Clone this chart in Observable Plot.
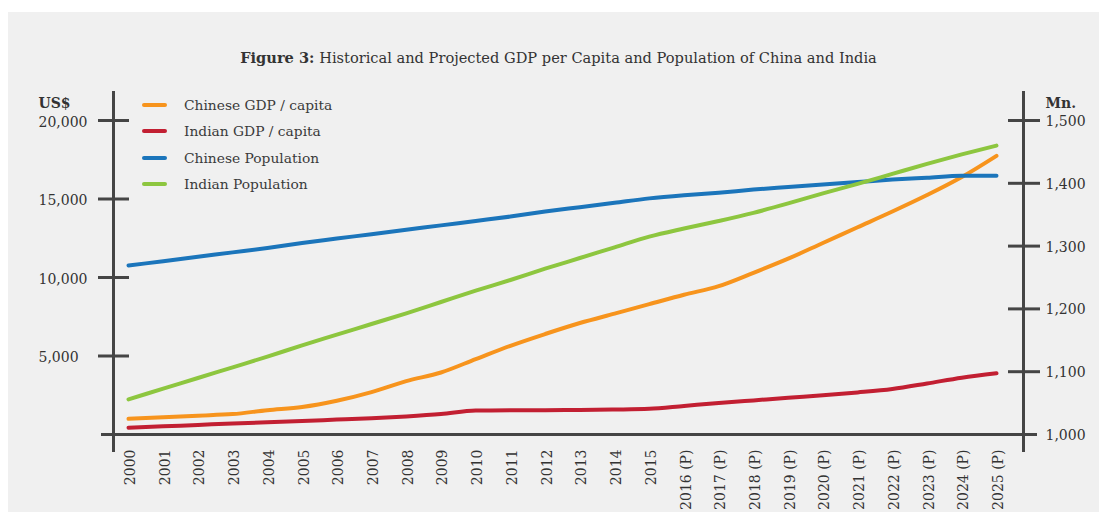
<!DOCTYPE html>
<html>
<head>
<meta charset="utf-8">
<script src="https://cdn.jsdelivr.net/npm/d3@7"></script>
<script src="https://cdn.jsdelivr.net/npm/@observablehq/plot@0.6"></script>
<style>
  html, body { margin: 0; padding: 0; background: #ffffff; }
  #panel { position: absolute; left: 8px; top: 12px; width: 1091px; height: 500px; background: #f0f0f0; overflow: hidden; }
  #title { position: absolute; left: -8px; top: 37px; width: 1117px; text-align: center; font-family: "DejaVu Serif", serif; font-size: 14.6px; color: #333; }
  #chart { position: absolute; left: -8px; top: 56px; }
  #legend { position: absolute; left: 134px; top: 80px; font-family: "DejaVu Serif", serif; font-size: 13.8px; color: #3a3a3a; }
  .row { height: 26.3px; display: flex; align-items: center; }
  .sw { width: 25px; height: 4px; border-radius: 2px; margin-right: 17px; }
</style>
</head>
<body>
<div id="panel">
  <div id="title"><b>Figure 3:</b> Historical and Projected GDP per Capita and Population of China and India</div>
  <div id="chart"></div>
  <div id="legend"></div>
</div>
<script>
const years = ["2000","2001","2002","2003","2004","2005","2006","2007","2008","2009","2010","2011","2012","2013","2014","2015","2016 (P)","2017 (P)","2018 (P)","2019 (P)","2020 (P)","2021 (P)","2022 (P)","2023 (P)","2024 (P)","2025 (P)"];
const chineseGDP = [1000,1100,1200,1300,1550,1750,2150,2700,3400,3950,4800,5650,6400,7100,7700,8300,8900,9450,10300,11200,12200,13200,14200,15250,16400,17750];
const indianGDP = [430,520,610,700,780,860,950,1040,1150,1300,1530,1540,1550,1560,1590,1640,1820,2000,2170,2340,2500,2680,2900,3250,3620,3900];
const chinesePop = [1269,1276,1283,1290,1297,1305,1312,1319,1326,1333,1340,1347,1355,1362,1369,1376,1381,1385,1390,1394,1398,1402,1406,1409,1412,1412];
const indianPop = [1056,1073,1090,1107,1124,1142,1159,1176,1193,1211,1229,1246,1264,1281,1298,1315,1328,1340,1353,1368,1384,1399,1415,1431,1446,1460];
const leftTicks = [0,5000,10000,15000,20000];
const rightTicks = [1000,1100,1200,1300,1400,1500];
const seriesNames = ["Chinese GDP / capita","Indian GDP / capita","Chinese Population","Indian Population"];
const seriesColors = ["#f7941d","#c21f32","#1b75bb","#8dc63f"];

// right axis (Mn.) mapped onto the left (US$) scale
const popToLeft = p => (p - 1000) * 40;

const rows = [];
years.forEach((yr, i) => {
  rows.push({i, s: seriesNames[0], v: chineseGDP[i]});
  rows.push({i, s: seriesNames[1], v: indianGDP[i]});
  rows.push({i, s: seriesNames[2], v: popToLeft(chinesePop[i])});
  rows.push({i, s: seriesNames[3], v: popToLeft(indianPop[i])});
});

// layout (pixels in SVG coordinates)
const W = 1099, H = 444;
const axL = 113, axR = 1023, firstX = 128, lastX = 996;
const step = (lastX - firstX) / (years.length - 1);
const d0 = -(firstX - axL) / step;
const d1 = (years.length - 1) + (axR - lastX) / step;
const px = p => d0 + (p - axL) / step; // pixel -> x domain
const yTopPx = 52, yBotPx = 366; // y pixel for 20000 and 0
const py = p => (yBotPx - p) / (yBotPx - yTopPx) * 20000; // pixel -> y domain
const axisColor = "#454545";
const font = "DejaVu Serif";

const chart = Plot.plot({
  width: W, height: H,
  marginLeft: axL, marginRight: W - axR, marginTop: yTopPx, marginBottom: H - yBotPx,
  style: {background: "transparent", fontFamily: font},
  x: {type: "linear", domain: [d0, d1], axis: null},
  y: {type: "linear", domain: [0, 20000], axis: null},
  marks: [
    Plot.ruleX([d0, d1], {y1: py(23), y2: py(384), stroke: axisColor, strokeWidth: 3}),
    Plot.ruleY([0], {x1: px(101), x2: px(1037), stroke: axisColor, strokeWidth: 3}),
    Plot.ruleY(leftTicks.slice(1), {x1: px(98), x2: px(129), stroke: axisColor, strokeWidth: 3}),
    Plot.ruleY(rightTicks.slice(1).map(popToLeft), {x1: px(1008), x2: px(1040), stroke: axisColor, strokeWidth: 3}),
    Plot.text(leftTicks.slice(1), {y: d => d, frameAnchor: "left", dx: -75, dy: 2, textAnchor: "start", text: d => d3.format(",")(d), fontSize: 14, fill: "#333"}),
    Plot.text(rightTicks, {y: d => popToLeft(d), frameAnchor: "right", dx: 22, dy: 1, textAnchor: "start", text: d => d3.format(",")(d), fontSize: 14, fill: "#333"}),
    Plot.text(["US$"], {frameAnchor: "top-left", dx: -75, dy: -22, textAnchor: "start", text: d => d, fontSize: 14, fontWeight: "bold", fill: "#333"}),
    Plot.text(["Mn."], {frameAnchor: "top-right", dx: 22, dy: -22, textAnchor: "start", text: d => d, fontSize: 14, fontWeight: "bold", fill: "#333"}),
    Plot.text(years, {x: (d, i) => i, frameAnchor: "bottom", dy: 15, dx: 2, rotate: -90, textAnchor: "end", lineAnchor: "middle", text: d => d, fontSize: 14, fill: "#333"}),
    Plot.line(rows, {x: "i", y: "v", z: "s", stroke: d => seriesColors[seriesNames.indexOf(d.s)], strokeWidth: 4, strokeLinecap: "round", strokeLinejoin: "round", curve: "monotone-x"})
  ]
});
document.getElementById("chart").appendChild(chart);

const legend = document.getElementById("legend");
seriesNames.forEach((n, k) => {
  const r = document.createElement("div");
  r.className = "row";
  r.innerHTML = `<span class="sw" style="background:${seriesColors[k]}"></span><span>${n}</span>`;
  legend.appendChild(r);
});
</script>
</body>
</html>
